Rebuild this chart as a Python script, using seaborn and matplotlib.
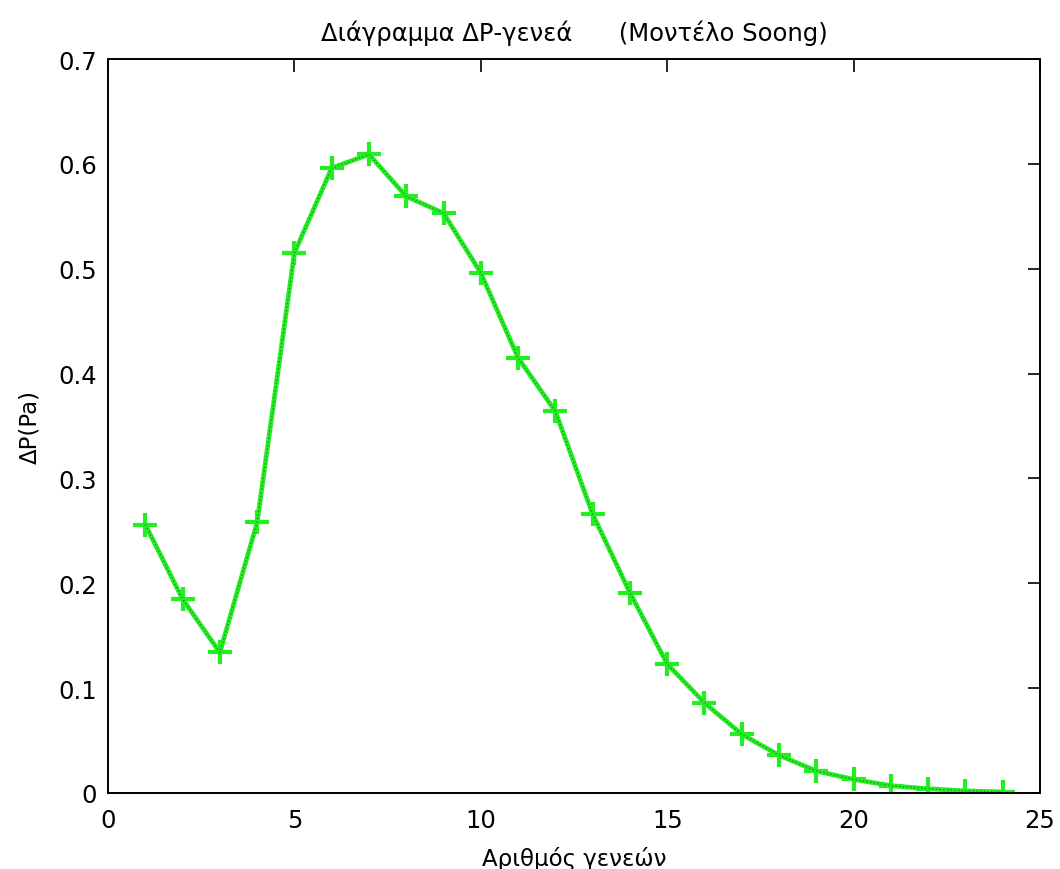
import matplotlib
matplotlib.use("Agg")
import matplotlib.pyplot as plt
import seaborn as sns
import pandas as pd

generations = list(range(1, 25))
delta_p = [0.256, 0.185, 0.134, 0.258, 0.515, 0.596, 0.609, 0.569, 0.553, 0.496,
           0.415, 0.364, 0.266, 0.191, 0.123, 0.086, 0.056, 0.036, 0.021, 0.013,
           0.007, 0.004, 0.002, 0.001]
x_ticks = [0, 5, 10, 15, 20, 25]
y_ticks = [0, 0.1, 0.2, 0.3, 0.4, 0.5, 0.6, 0.7]
y_tick_labels = ["0", "0.1", "0.2", "0.3", "0.4", "0.5", "0.6", "0.7"]
title = "Διάγραμμα ΔΡ-γενεά      (Μοντέλο Soong)"
xlabel = "Αριθμός γενεών"
ylabel = "ΔP(Pa)"

df = pd.DataFrame({"gen": generations, "dp": delta_p})

sns.set_style("white")
plt.rcParams["font.family"] = ["DejaVu Sans"]
plt.rcParams["font.size"] = 17

fig = plt.figure(figsize=(10.6, 8.7), dpi=100)
ax = fig.add_axes([108 / 1060, 76 / 870, 932 / 1060, 734 / 870])

sns.lineplot(data=df, x="gen", y="dp", ax=ax, color="#22ee22", linewidth=3.4,
             marker="+", markersize=17, markeredgewidth=3, markeredgecolor="#22ee22")
sns.lineplot(data=df, x="gen", y="dp", ax=ax, color="#2e8b2e", linewidth=1.0,
             linestyle=":")

ax.set_xlim(0, 25)
ax.set_ylim(0, 0.7)
ax.set_xticks(x_ticks)
ax.set_xticklabels([str(t) for t in x_ticks])
ax.set_yticks(y_ticks)
ax.set_yticklabels(y_tick_labels)
ax.tick_params(direction="in", length=9, width=1.2, top=True, right=True,
               labelsize=17.5, colors="black")
ax.tick_params(axis="y", pad=8)
ax.tick_params(axis="x", pad=11)
for s in ax.spines.values():
    s.set_visible(True)
    s.set_color("black")
    s.set_linewidth(1.4)

ax.set_title(title, fontsize=17.5, pad=14, color="black")
ax.set_xlabel(xlabel, fontsize=16.5, labelpad=10, color="black")
ax.set_ylabel(ylabel, fontsize=16.5, labelpad=12, color="black")
ax.grid(False)

fig.savefig("out.png", dpi=100, facecolor="white")
